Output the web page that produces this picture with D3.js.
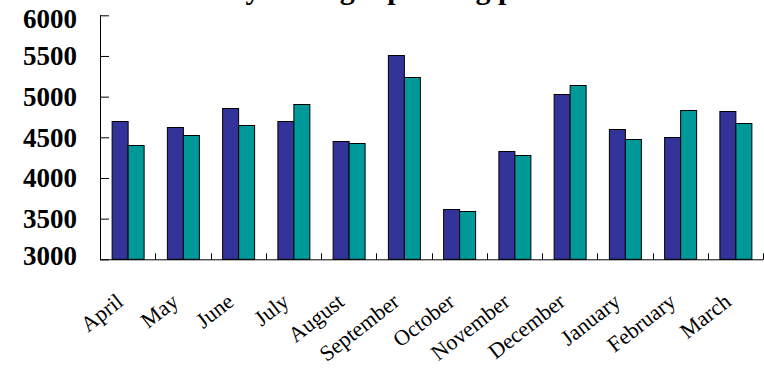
<!DOCTYPE html>
<html>
<head>
<meta charset="utf-8">
<script src="https://cdn.jsdelivr.net/npm/d3@7"></script>
<style>
  html, body { margin: 0; padding: 0; background: #fff; }
  svg { display: block; }
  text { font-family: "Liberation Serif", "Times New Roman", serif; }
</style>
</head>
<body>
<svg id="chart" width="764" height="373"></svg>
<script>
// Monthly figures, fiscal year order (April to March)
const months = ["April", "May", "June", "July", "August", "September",
                "October", "November", "December", "January", "February", "March"];
const seriesNames = ["Previous year", "Current year"];
const previousYear = [4704, 4623, 4857, 4704, 4455, 5512, 3622, 4328, 5033, 4606, 4500, 4824];
const currentYear  = [4405, 4528, 4655, 4906, 4434, 5245, 3590, 4279, 5139, 4483, 4840, 4672];
const yTicks = [3000, 3500, 4000, 4500, 5000, 5500, 6000];
const titleText = "Monthly average spending per household";

const colors = ["#333399", "#009999"];
const series = [previousYear, currentYear];

const svg = d3.select("#chart");
const plotLeft = 100, plotRight = 763, plotTop = 15.3, plotBottom = 259.3;

const x0 = d3.scaleBand().domain(months).range([plotLeft, plotRight]).padding(0);
const x1 = d3.scaleBand().domain(seriesNames).range([0, x0.bandwidth()])
  .paddingInner(0).paddingOuter(0.727);
const y = d3.scaleLinear().domain([3000, 6000]).range([plotBottom, plotTop]);

// Title (runs above the top edge of the frame)
svg.append("text")
  .attr("x", 150.5).attr("y", -1.5)
  .attr("font-size", 30).attr("font-weight", "bold")
  .text(titleText);

// Bars
const rows = months.map((m, i) => ({ month: m, values: series.map((s, k) => ({ key: seriesNames[k], k, v: s[i] })) }));
const groups = svg.append("g").selectAll("g").data(rows).join("g")
  .attr("transform", d => `translate(${x0(d.month)},0)`);
groups.selectAll("rect").data(d => d.values).join("rect")
  .attr("x", d => x1(d.key) + 0.5)
  .attr("y", d => Math.round(y(d.v)) + 0.5)
  .attr("width", x1.bandwidth())
  .attr("height", d => plotBottom - Math.round(y(d.v)) - 0.5)
  .attr("fill", d => colors[d.k])
  .attr("stroke", "#000")
  .attr("stroke-width", 1);

// Y axis, ticks pointing inward
const yAxis = d3.axisRight(y).tickValues(yTicks).tickSize(9).tickFormat("");
const yg = svg.append("g").attr("transform", `translate(${plotLeft},0)`).call(yAxis);
yg.selectAll("line").attr("stroke", "#000");
yg.select(".domain").attr("stroke", "#000").attr("d", `M0.5,${plotTop}V${plotBottom}`);

svg.append("g").selectAll("text").data(yTicks).join("text")
  .attr("x", 77)
  .attr("y", d => y(d) + (d === 6000 ? 3.5 : d === 3000 ? -3.5 : 0))
  .attr("dy", "0.35em")
  .attr("text-anchor", "end")
  .attr("font-size", 27).attr("font-weight", "bold")
  .text(d => d);

// X axis with ticks between categories, pointing inward
const boundaries = months.map(m => x0(m)).concat([plotRight]);
svg.append("line")
  .attr("x1", plotLeft).attr("x2", plotRight)
  .attr("y1", plotBottom + 0.5).attr("y2", plotBottom + 0.5)
  .attr("stroke", "#000");
svg.append("g").selectAll("line").data(boundaries).join("line")
  .attr("x1", d => Math.round(d) + 0.5).attr("x2", d => Math.round(d) + 0.5)
  .attr("y1", plotBottom - 6).attr("y2", plotBottom + 0.5)
  .attr("stroke", "#000");

// Category labels, rotated
svg.append("g").selectAll("text").data(months).join("text")
  .attr("transform", d => `translate(${x0(d) + x0.bandwidth() / 2 - 3},${plotBottom + 45}) rotate(-38)`)
  .attr("text-anchor", "end")
  .attr("font-size", 22)
  .text(d => d);
</script>
</body>
</html>
